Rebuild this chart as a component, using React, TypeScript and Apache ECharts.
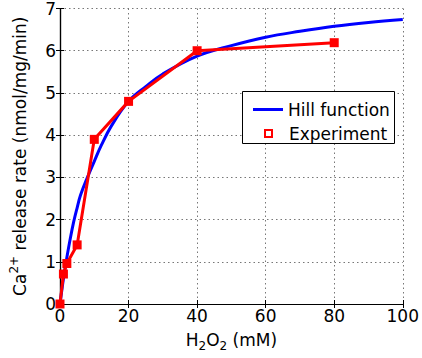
import React, { useEffect, useRef } from 'react';
import * as echarts from 'echarts';

const hillX = [0, 1, 2, 3, 4, 5, 6, 8, 10, 12, 15, 20, 25, 30, 40, 50, 60, 70, 80, 90, 100];
const hillY = [0, 0.6, 1.1, 1.55, 1.95, 2.28, 2.58, 3.0, 3.38, 3.75, 4.22, 4.8, 5.15, 5.45, 5.87, 6.12, 6.32, 6.46, 6.58, 6.67, 6.74];
const expX = [0, 1, 2, 5, 10, 20, 40, 80];
const expY = [0, 0.71, 0.96, 1.4, 3.9, 4.8, 6.0, 6.19];
const xTicks = [0, 20, 40, 60, 80, 100];
const yTicks = [0, 1, 2, 3, 4, 5, 6, 7];

const FONT = '"DejaVu Sans", Verdana, sans-serif';
const FS = 17;

export default function App() {
  const ref = useRef<HTMLDivElement>(null);
  useEffect(() => {
    if (!ref.current) return;
    const chart = echarts.init(ref.current, undefined, { renderer: 'svg' });
    const hill = hillX.map((x, i) => [x, hillY[i]]);
    const exp = expX.map((x, i) => [x, expY[i]]);
    const grid = { show: true, lineStyle: { type: [1.5, 3], color: '#777', width: 1 } };
    const tick = { show: true, inside: true, length: 4, lineStyle: { color: '#000' } };
    const line = { show: true, lineStyle: { color: '#000', width: 1.2 } };
    chart.setOption({
      animation: false,
      backgroundColor: '#fff',
      textStyle: { fontFamily: FONT },
      grid: {
        left: 54, right: 15, top: 5, bottom: 54,
        show: false,
      },
      xAxis: [
        {
          type: 'value', min: xTicks[0], max: xTicks[xTicks.length - 1], interval: 20,
          name: '{n|H}{s|2}{n|O}{s|2}{n| (mM)}',
          nameLocation: 'middle', nameGap: 27,
          nameTextStyle: {
            rich: {
              n: { fontSize: FS, fontFamily: FONT, color: '#000', lineHeight: 22, verticalAlign: 'top' },
              s: { fontSize: 12, fontFamily: FONT, color: '#000', lineHeight: 22, verticalAlign: 'top', padding: [9, 0, 0, 0] },
            },
          },
          axisLine: line, axisTick: tick,
          axisLabel: { fontSize: FS, color: '#000', fontFamily: FONT, margin: 3 },
          splitLine: grid,
        },
        {
          type: 'value', position: 'top', min: xTicks[0], max: xTicks[xTicks.length - 1], interval: 20,
          axisLine: line, axisTick: tick, axisLabel: { show: false }, splitLine: { show: false },
        },
      ],
      yAxis: [
        {
          type: 'value', min: yTicks[0], max: yTicks[yTicks.length - 1], interval: 1,
          name: '{n|Ca}{p|2+}{n| release rate (nmol/mg/min)}',
          nameLocation: 'middle', nameGap: 32, nameRotate: 90,
          nameTextStyle: {
            rich: {
              n: { fontSize: FS, fontFamily: FONT, color: '#000', lineHeight: 22, verticalAlign: 'bottom' },
              p: { fontSize: 12, fontFamily: FONT, color: '#000', lineHeight: 22, verticalAlign: 'bottom', padding: [0, 0, 8, 0] },
            },
          },
          axisLine: line, axisTick: tick,
          axisLabel: { fontSize: FS, color: '#000', fontFamily: FONT, margin: 4 },
          splitLine: grid,
        },
        {
          type: 'value', position: 'right', min: yTicks[0], max: yTicks[yTicks.length - 1], interval: 1,
          axisLine: line, axisTick: tick, axisLabel: { show: false }, splitLine: { show: false },
        },
      ],
      legend: [
        {
          data: [{ name: 'Hill function', icon: 'rect' }],
          left: 248, top: 96, itemWidth: 30, itemHeight: 3, itemGap: 0, z: 10,
          textStyle: { fontSize: FS, color: '#000', fontFamily: FONT },
          selectedMode: false,
        },
        {
          data: [{ name: 'Experiment', icon: 'rect', itemStyle: { color: '#fff', borderColor: '#ff0000', borderWidth: 2 } }],
          left: 259, top: 120, itemWidth: 7, itemHeight: 7, itemGap: 0, z: 10,
          textStyle: { fontSize: FS, color: '#000', fontFamily: FONT, padding: [0, 0, 0, 12] },
          selectedMode: false,
        },
      ],
      graphic: [
        {
          type: 'rect', left: 242, top: 91, z: 8,
          shape: { width: 152, height: 52 },
          style: { fill: '#fff', stroke: '#000', lineWidth: 1 },
        },
      ],
      series: [
        {
          name: 'Hill function', type: 'line', data: hill, smooth: 0.4,
          showSymbol: false, symbol: 'none', xAxisIndex: 0, yAxisIndex: 0,
          lineStyle: { color: '#0000ff', width: 3 }, itemStyle: { color: '#0000ff' }, z: 2,
        },
        {
          name: 'Experiment', type: 'line', data: exp, xAxisIndex: 0, yAxisIndex: 0,
          symbol: 'rect', symbolSize: 9,
          lineStyle: { color: '#ff0000', width: 3 }, itemStyle: { color: '#ff0000' }, z: 3,
        },
      ],
    });
    return () => chart.dispose();
  }, []);
  return <div ref={ref} style={{ width: 422, height: 358, position: 'absolute', left: 0, top: 0 }} />;
}
